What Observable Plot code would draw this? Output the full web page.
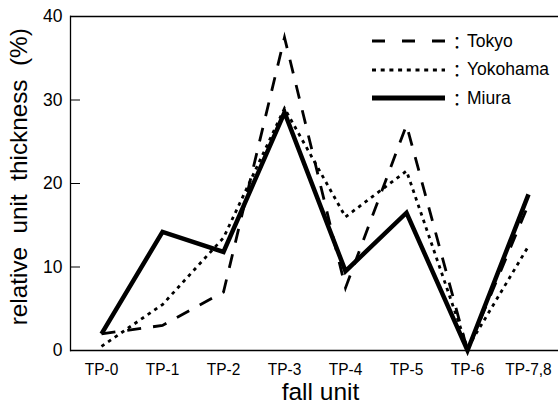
<!DOCTYPE html>
<html>
<head>
<meta charset="utf-8">
<script src="https://cdn.jsdelivr.net/npm/d3@7"></script>
<script src="https://cdn.jsdelivr.net/npm/@observablehq/plot@0.6"></script>
<style>
  html, body { margin: 0; padding: 0; background: #fff; }
  #wrap { position: relative; width: 558px; height: 405px; font-family: "Liberation Sans", Arial, sans-serif; }
  #legend { position: absolute; left: 372px; top: 27px; }
  .row { display: flex; align-items: center; height: 28.5px; font-size: 17.5px; color: #000; }
  .row svg { display: block; margin-right: 2px; }
  .colon { font-family: "Noto Sans CJK JP", sans-serif; display: inline-block; width: 20px; text-align: center; }
</style>
</head>
<body>
<div id="wrap"></div>
<script>
const units = ["TP-0", "TP-1", "TP-2", "TP-3", "TP-4", "TP-5", "TP-6", "TP-7,8"];
const tokyo = [2, 3, 7, 37.5, 7.5, 27, 0, 17.5];
const yokohama = [0.5, 5.5, 13.5, 29, 16, 21.5, 0.3, 12.5];
const miura = [2, 14.2, 11.8, 28.5, 9.5, 16.5, 0, 18.7];
const seriesNames = ["Tokyo", "Yokohama", "Miura"];
const yTicks = [0, 10, 20, 30, 40];

const styles = {
  Tokyo: {strokeWidth: 2.8, dash: "14,12"},
  Yokohama: {strokeWidth: 2.8, dash: "3.5,4.5"},
  Miura: {strokeWidth: 4.5, dash: null}
};

const seriesValues = {Tokyo: tokyo, Yokohama: yokohama, Miura: miura};
const rows = seriesNames.flatMap(s => units.map((u, i) => ({series: s, unit: u, value: seriesValues[s][i]})));

const lineMarks = seriesNames.map(s => Plot.line(rows.filter(d => d.series === s), {
  x: "unit", y: "value", stroke: "#000",
  strokeWidth: styles[s].strokeWidth,
  strokeDasharray: styles[s].dash,
  strokeLinejoin: "miter", strokeMiterlimit: 10, strokeLinecap: "butt"
}));

const chart = Plot.plot({
  width: 558, height: 405,
  marginLeft: 70, marginRight: 0, marginTop: 16, marginBottom: 55,
  x: {type: "point", domain: units, label: null},
  y: {domain: [0, 40], label: null},
  style: {fontFamily: "'Liberation Sans', Arial, sans-serif", color: "#000", background: "#fff"},
  marks: [
    Plot.ruleY([0, 40], {stroke: "#000", strokeWidth: 1.3}),
    Plot.frame({anchor: "left", stroke: "#000", strokeWidth: 1.3}),
    Plot.axisY(yTicks, {tickSize: 0, tickPadding: 8, fontSize: 17.5, label: null}),
    Plot.axisY(yTicks, {tickSize: -10, text: null, label: null, stroke: "#000"}),
    Plot.axisY([], {label: "\u00a0\u00a0relative\u00a0\u00a0unit\u00a0\u00a0thickness\u00a0\u00a0(%)", labelAnchor: "center", labelOffset: 61, fontSize: 24.3, labelArrow: "none"}),
    Plot.axisX(units, {tickSize: 0, tickPadding: 12, fontSize: 17, label: null}),
    Plot.axisX([], {label: "fall unit", labelAnchor: "center", labelOffset: 49.5, fontSize: 24.5, labelArrow: "none"}),
    ...lineMarks
  ]
});

const wrap = document.getElementById("wrap");
wrap.appendChild(chart);

// slightly condensed look for the x tick labels
d3.select(chart).selectAll("g[aria-label='x-axis tick label'] text").each(function() {
  const w = this.getComputedTextLength();
  this.setAttribute("textLength", (w * 0.91).toFixed(1));
  this.setAttribute("lengthAdjust", "spacingAndGlyphs");
});
// nudge the x-axis title slightly right, as in the reference (keep Plot's own transform)
d3.select(chart).selectAll("g[aria-label='x-axis label']").each(function() {
  const t = this.getAttribute("transform") || "";
  this.setAttribute("transform", "translate(6,0) " + t);
});

const legend = document.createElement("div");
legend.id = "legend";
seriesNames.forEach(s => {
  const row = document.createElement("div");
  row.className = "row";
  const st = styles[s];
  row.innerHTML = `<svg width="73" height="10"><line x1="0" x2="73" y1="5" y2="5" stroke="#000" stroke-width="${s === "Miura" ? 5 : 3}" ${st.dash ? `stroke-dasharray="${s === "Tokyo" ? "13,17" : "4,4.7"}"` : ""}/></svg><span class="colon">：</span><span>${s}</span>`;
  legend.appendChild(row);
});
wrap.appendChild(legend);
</script>
</body>
</html>
